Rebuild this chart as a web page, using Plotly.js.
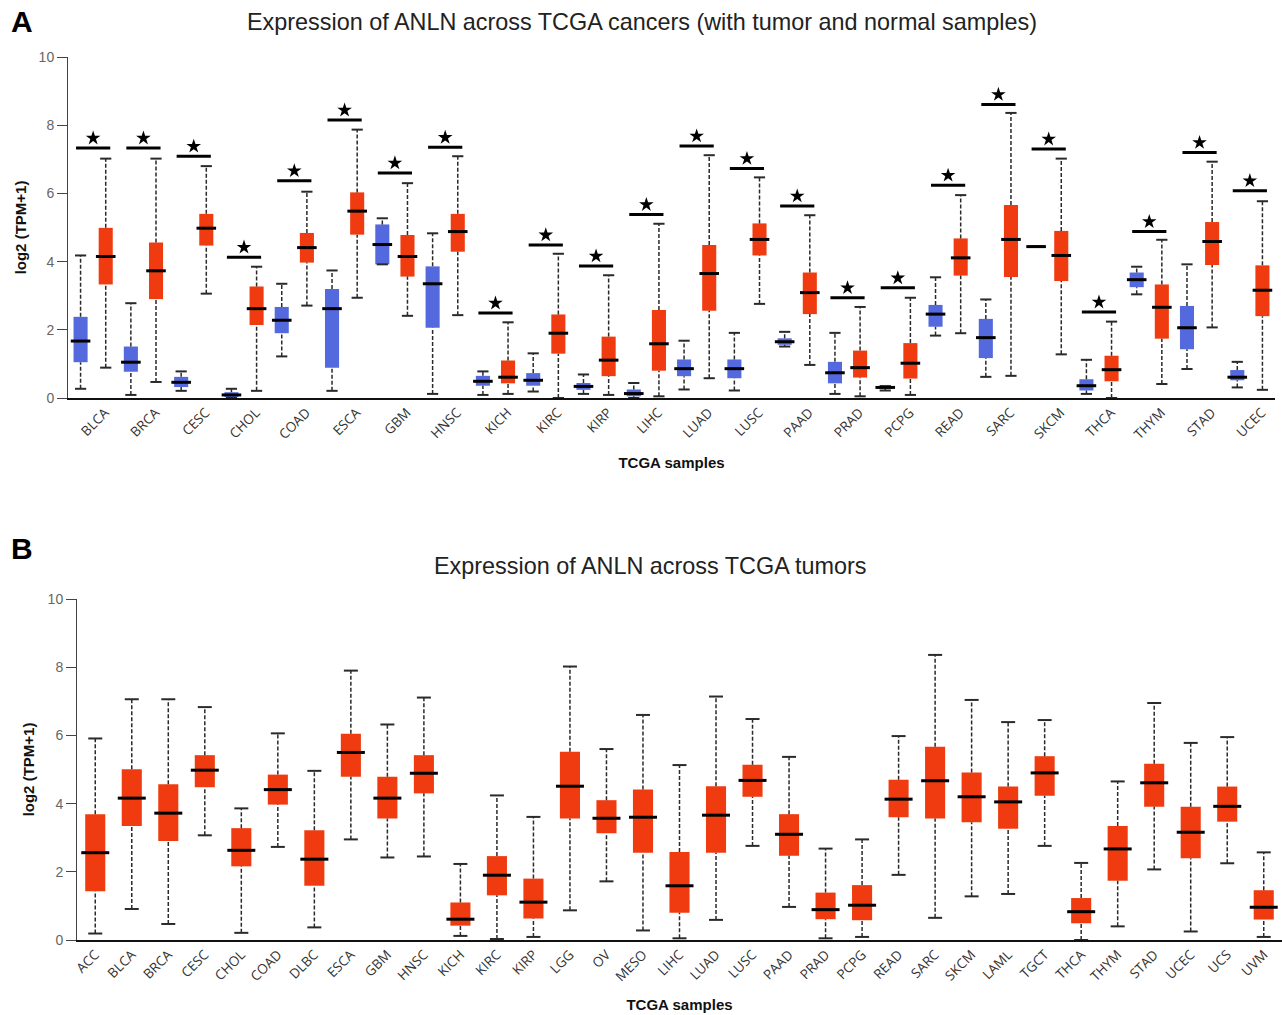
<!DOCTYPE html>
<html>
<head>
<meta charset="utf-8">
<script src="https://cdn.plot.ly/plotly-3.0.1.min.js"></script>
<style>html,body{margin:0;padding:0;background:#fff;}</style>
</head>
<body>
<div id="chart" style="width:1282px;height:1015px;"></div>
<script>
// ---------- Panel A : tumor vs normal ----------
const catsA = ["BLCA","BRCA","CESC","CHOL","COAD","ESCA","GBM","HNSC","KICH","KIRC","KIRP","LIHC","LUAD","LUSC","PAAD","PRAD","PCPG","READ","SARC","SKCM","THCA","THYM","STAD","UCEC"];
// normal samples
const normUpper = [4.18,2.78,0.78,0.27,3.35,3.74,5.27,4.83,0.78,1.31,0.69,0.44,1.68,1.91,1.94,1.91,0.35,3.54,2.89,4.44,1.12,3.85,3.92,1.06];
const normQ3    = [2.38,1.51,0.62,0.17,2.67,3.20,5.09,3.86,0.65,0.73,0.44,0.25,1.13,1.13,1.75,1.06,0.33,2.73,2.32,4.44,0.55,3.68,2.70,0.82];
const normMed   = [1.67,1.05,0.46,0.09,2.28,2.62,4.50,3.35,0.49,0.52,0.34,0.13,0.86,0.86,1.65,0.74,0.31,2.46,1.77,4.44,0.36,3.47,2.06,0.61];
const normQ1    = [1.05,0.77,0.32,0.03,1.90,0.89,3.92,2.06,0.36,0.36,0.24,0.05,0.64,0.58,1.56,0.43,0.28,2.09,1.17,4.44,0.22,3.25,1.43,0.52];
const normLower = [0.27,0.09,0.21,0.00,1.22,0.21,3.92,0.12,0.09,0.19,0.12,0.00,0.25,0.22,1.51,0.12,0.22,1.83,0.62,4.44,0.12,3.04,0.85,0.31];
// tumor samples
const tumUpper  = [7.02,7.02,6.80,3.85,6.05,7.87,6.30,7.09,2.22,4.23,3.60,5.11,7.12,6.47,5.36,2.67,2.94,5.95,8.36,7.02,2.24,4.64,6.93,5.77];
const tumQ3     = [4.99,4.56,5.40,3.27,4.84,6.03,4.78,5.40,1.10,2.45,1.80,2.58,4.49,5.12,3.68,1.39,1.61,4.68,5.66,4.90,1.24,3.33,5.16,3.89];
const tumMed    = [4.15,3.73,4.98,2.62,4.41,5.48,4.15,4.88,0.61,1.90,1.11,1.59,3.65,4.65,3.09,0.89,1.02,4.11,4.65,4.18,0.83,2.66,4.59,3.16];
const tumQ1     = [3.33,2.90,4.47,2.14,3.97,4.79,3.56,4.29,0.43,1.30,0.64,0.80,2.56,4.18,2.46,0.60,0.57,3.59,3.55,3.43,0.49,1.74,3.90,2.40];
const tumLower  = [0.89,0.47,3.06,0.21,2.71,2.94,2.41,2.43,0.12,0.00,0.09,0.05,0.58,2.76,0.97,0.05,0.09,1.90,0.65,1.28,0.00,0.41,2.07,0.24];
// significance bar heights (all significant, marked with a star)
const sigLevel  = [7.33,7.33,7.09,4.13,6.37,8.15,6.60,7.35,2.49,4.49,3.87,5.38,7.39,6.73,5.63,2.94,3.23,6.24,8.61,7.30,2.52,4.88,7.20,6.08];

// ---------- Panel B : tumors only ----------
const catsB = ["ACC","BLCA","BRCA","CESC","CHOL","COAD","DLBC","ESCA","GBM","HNSC","KICH","KIRC","KIRP","LGG","OV","MESO","LIHC","LUAD","LUSC","PAAD","PRAD","PCPG","READ","SARC","SKCM","LAML","TGCT","THCA","THYM","STAD","UCEC","UCS","UVM"];
const bUpper = [5.91,7.06,7.06,6.83,3.86,6.06,4.96,7.90,6.32,7.11,2.23,4.24,3.61,8.02,5.60,6.60,5.13,7.14,6.48,5.37,2.68,2.95,5.98,8.36,7.04,6.39,6.45,2.26,4.65,6.95,5.78,5.95,2.57];
const bQ3    = [3.69,5.01,4.57,5.42,3.28,4.85,3.22,6.05,4.79,5.42,1.10,2.46,1.80,5.52,4.10,4.41,2.58,4.51,5.14,3.69,1.39,1.61,4.70,5.67,4.91,4.50,5.39,1.23,3.34,5.17,3.91,4.50,1.46];
const bMed   = [2.56,4.16,3.72,4.98,2.63,4.41,2.37,5.50,4.16,4.89,0.61,1.90,1.11,4.51,3.57,3.60,1.59,3.66,4.68,3.10,0.89,1.02,4.13,4.67,4.20,4.05,4.90,0.83,2.67,4.61,3.16,3.92,0.96];
const bQ1    = [1.43,3.34,2.90,4.48,2.16,3.97,1.59,4.79,3.56,4.30,0.42,1.31,0.63,3.56,3.13,2.56,0.80,2.56,4.20,2.47,0.61,0.58,3.60,3.56,3.45,3.26,4.23,0.49,1.74,3.91,2.40,3.47,0.60];
const bLower = [0.19,0.91,0.47,3.07,0.21,2.73,0.37,2.95,2.42,2.45,0.12,0.03,0.09,0.87,1.72,0.28,0.05,0.59,2.76,0.97,0.05,0.09,1.91,0.65,1.28,1.35,2.76,0.00,0.40,2.07,0.25,2.25,0.09];

const RED = "#EF3B0F", BLUE = "#5469DE", WHISK = "#2a2a2a";
const idxA = catsA.map((_, i) => i);
const idxB = catsB.map((_, i) => i);

function boxTraces(xs, lo, q1, med, q3, hi, color, boxW, medPx, capPx, xa, ya) {
  const wx = [], wy = [];
  xs.forEach((x, i) => { wx.push(x, x, null, x, x, null); wy.push(lo[i], q1[i], null, q3[i], hi[i], null); });
  const capX = [], capY = [];
  xs.forEach((x, i) => { capX.push(x, x); capY.push(lo[i], hi[i]); });
  return [
    {type: "scatter", mode: "lines", x: wx, y: wy, xaxis: xa, yaxis: ya, hoverinfo: "skip",
     line: {color: WHISK, width: 1.5, dash: "4px,2px"}, showlegend: false},
    {type: "bar", x: xs, base: q1, y: q3.map((v, i) => v - q1[i]), width: boxW, xaxis: xa, yaxis: ya,
     marker: {color: color, line: {width: 0}}, hoverinfo: "skip", showlegend: false},
    {type: "scatter", mode: "markers", x: capX, y: capY, xaxis: xa, yaxis: ya, hoverinfo: "skip",
     marker: {symbol: "line-ew", size: capPx, color: WHISK, line: {color: WHISK, width: 2}}, showlegend: false},
    {type: "scatter", mode: "markers", x: xs, y: med, xaxis: xa, yaxis: ya, hoverinfo: "skip",
     marker: {symbol: "line-ew", size: medPx, color: "#000", line: {color: "#000", width: 3}}, showlegend: false}
  ];
}

const offA = 0.25;
const xNorm = idxA.map(i => i - offA);
const xTum = idxA.map(i => i + offA);
let traces = [];
traces = traces.concat(boxTraces(xNorm, normLower, normQ1, normMed, normQ3, normUpper, BLUE, 0.28, 14, 8, "x", "y"));
traces = traces.concat(boxTraces(xTum, tumLower, tumQ1, tumMed, tumQ3, tumUpper, RED, 0.28, 14, 8, "x", "y"));
// significance bars + stars
const sbX = [], sbY = [];
idxA.forEach(i => { sbX.push(i - 0.34, i + 0.34, null); sbY.push(sigLevel[i], sigLevel[i], null); });
traces.push({type: "scatter", mode: "lines", x: sbX, y: sbY, xaxis: "x", yaxis: "y", hoverinfo: "skip",
  line: {color: "#000", width: 3}, showlegend: false});
traces.push({type: "scatter", mode: "markers", x: idxA, y: sigLevel.map(v => v + 0.29), xaxis: "x", yaxis: "y", hoverinfo: "skip",
  marker: {symbol: "star", size: 11, color: "#000", line: {width: 0}}, showlegend: false});

traces = traces.concat(boxTraces(idxB, bLower, bQ1, bMed, bQ3, bUpper, RED, 0.55, 20, 10, "x2", "y2"));

const tickFont = {family: "Open Sans, DejaVu Sans, sans-serif", size: 13.5, color: "#333"};
const yTickFont = {family: "Liberation Sans, Arial, sans-serif", size: 14, color: "#666"};
const axTitleFont = {family: "Liberation Sans, Arial, sans-serif", size: 15, color: "#111"};

const H = 1015, W = 1282;
const layout = {
  width: W, height: H,
  margin: {l: 0, r: 0, t: 0, b: 0},
  paper_bgcolor: "#ffffff", plot_bgcolor: "#ffffff",
  barmode: "overlay",
  showlegend: false,
  title: {text: "Expression of ANLN across TCGA cancers (with tumor and normal samples)",
          x: 642 / W, xanchor: "center", y: 1 - 22 / H, yanchor: "middle", xref: "paper", yref: "paper",
          font: {family: "Liberation Sans, Arial, sans-serif", size: 23.4, color: "#222"}},
  xaxis: {domain: [68 / W, 1275 / W], range: [-0.5, 23.5], anchor: "y",
          tickmode: "array", tickvals: idxA, ticktext: catsA, tickangle: -45, tickfont: tickFont,
          ticklabelshift: 12,
          ticks: "", showline: true, linecolor: "#111", linewidth: 1.5, showgrid: false, zeroline: false,
          title: {text: "<b>TCGA samples</b>", font: axTitleFont, standoff: 15}},
  yaxis: {domain: [1 - 398 / H, 1 - 57 / H], range: [0, 10], anchor: "x",
          tickmode: "array", tickvals: [0, 2, 4, 6, 8, 10], tickfont: yTickFont,
          ticks: "outside", ticklen: 10, tickcolor: "#444", showline: true, linecolor: "#444", linewidth: 1,
          showgrid: false, zeroline: false,
          title: {text: "<b>log2 (TPM+1)</b>", font: axTitleFont, standoff: 8}},
  xaxis2: {domain: [77 / W, 1], range: [-0.5, 32.5], anchor: "y2",
          tickmode: "array", tickvals: idxB, ticktext: catsB, tickangle: -45, tickfont: tickFont,
          ticks: "", showline: true, linecolor: "#111", linewidth: 1.5, showgrid: false, zeroline: false,
          title: {text: "<b>TCGA samples</b>", font: axTitleFont, standoff: 15}},
  yaxis2: {domain: [1 - 940 / H, 1 - 599 / H], range: [0, 10], anchor: "x2",
          tickmode: "array", tickvals: [0, 2, 4, 6, 8, 10], tickfont: yTickFont,
          ticks: "outside", ticklen: 10, tickcolor: "#444", showline: true, linecolor: "#444", linewidth: 1,
          showgrid: false, zeroline: false,
          title: {text: "<b>log2 (TPM+1)</b>", font: axTitleFont, standoff: 9}},
  annotations: [
    {text: "<b>A</b>", xref: "paper", yref: "paper", x: 9 / W, y: 1 - 22 / H, xanchor: "left", yanchor: "middle",
     showarrow: false, font: {family: "Liberation Sans, Arial, sans-serif", size: 30, color: "#000"}},
    {text: "<b>B</b>", xref: "paper", yref: "paper", x: 9 / W, y: 1 - 548 / H, xanchor: "left", yanchor: "middle",
     showarrow: false, font: {family: "Liberation Sans, Arial, sans-serif", size: 30, color: "#000"}},
    {text: "Expression of ANLN across TCGA tumors", xref: "paper", yref: "paper", x: 650 / W, y: 1 - 566 / H,
     xanchor: "center", yanchor: "middle", showarrow: false,
     font: {family: "Liberation Sans, Arial, sans-serif", size: 23.4, color: "#222"}}
  ]
};

Plotly.newPlot("chart", traces, layout, {displayModeBar: false, staticPlot: true});
</script>
</body>
</html>
